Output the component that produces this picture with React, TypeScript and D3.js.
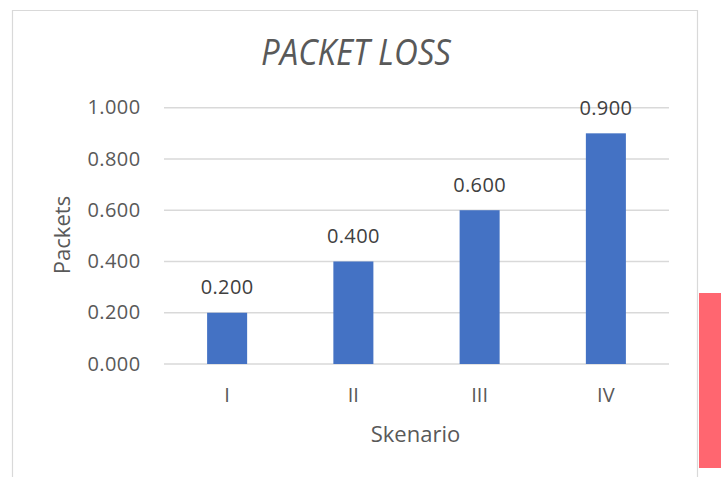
import React from "react";
import * as d3 from "d3";

const categories = ["I", "II", "III", "IV"];
const values = [0.2, 0.4, 0.6, 0.9];
const yTicks = [0, 0.2, 0.4, 0.6, 0.8, 1.0];
const title = "PACKET LOSS";
const xTitle = "Skenario";
const yTitle = "Packets";

export default function App() {
  const W = 721, H = 477;
  const left = 164, right = 669, top = 107.7, bottom = 364;
  const x = d3.scaleBand<string>().domain(categories).range([left, right]).paddingInner(0.683).paddingOuter(0.3415);
  const y = d3.scaleLinear().domain([0, 1]).range([bottom, top]);
  const fmt = d3.format(".3f");
  const font = "'Open Sans', 'Noto Sans', sans-serif";
  const textColor = "#595959";
  return (
    <svg width={W} height={H} style={{ position: "absolute", left: 0, top: 0, background: "#fff" }} fontFamily={font}>
      <rect x={0} y={0} width={W} height={H} fill="#fff" />
      {/* chart border */}
      <path d={`M12.5,${H} V10.5 H697.5 V${H}`} fill="none" stroke="#d9d9d9" strokeWidth={1.2} />
      {/* red element at right */}
      <rect x={699} y={293} width={22} height={175} fill="#ff6670" />
      <text transform="translate(356,65) scale(1,1.12)" textAnchor="middle" fontSize={33} fontStyle="italic" fill={textColor}>{title}</text>
      {yTicks.map((t) => (
        <g key={t}>
          <line x1={left} x2={right} y1={y(t)} y2={y(t)} stroke="#d9d9d9" strokeWidth={1.5} />
          <text x={140.5} y={y(t)} dy="0.33em" textAnchor="end" fontSize={20} letterSpacing={0.4} fill={textColor}>{fmt(t)}</text>
        </g>
      ))}
      {values.map((v, i) => (
        <g key={categories[i]}>
          <rect x={x(categories[i])} y={y(v)} width={x.bandwidth()} height={y(0) - y(v)} fill="#4472c4" />
          <text x={(x(categories[i]) as number) + x.bandwidth() / 2} y={y(v) - 18.5} textAnchor="middle" fontSize={20} letterSpacing={0.4} fill="#404040">{fmt(v)}</text>
          <text x={(x(categories[i]) as number) + x.bandwidth() / 2} y={y(0) + 38} textAnchor="middle" fontSize={20} fill={textColor}>{categories[i]}</text>
        </g>
      ))}
      <text x={415.5} y={442} textAnchor="middle" fontSize={22} fill={textColor}>{xTitle}</text>
      <text transform={`translate(70,235) rotate(-90)`} textAnchor="middle" fontSize={22} fill={textColor}>{yTitle}</text>
    </svg>
  );
}
